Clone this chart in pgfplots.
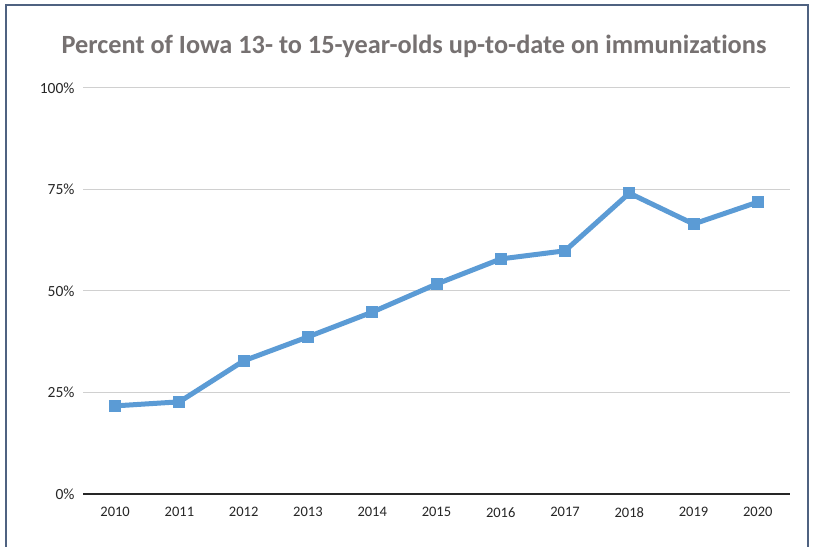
\documentclass[border=0pt]{standalone}
\usepackage{pgfplots}
\pgfplotsset{compat=1.18}
\usepackage{fontspec}
\setmainfont{Carlito}[Ligatures=NoCommon]
\definecolor{lineblue}{HTML}{5B9BD5}
\definecolor{framec}{HTML}{4F6281}
\definecolor{titlec}{HTML}{767171}
\definecolor{gridc}{HTML}{D0D0D0}
\definecolor{tickc}{HTML}{262626}
\begin{document}
\begin{tikzpicture}[x=1bp,y=1bp]
\useasboundingbox (0,0) rectangle (819,547);
\fill[white] (0,0) rectangle (819,547);
\draw[framec, line width=2bp] (6,0) -- (6,542) -- (808,542) -- (808,0);
\node[font=\fontsize{26.3bp}{30bp}\selectfont\bfseries, text=titlec] at (414,501) {Percent of Iowa 13- to 15-year-olds up-to-date on immunizations};
\begin{axis}[
  at={(83bp,53bp)}, anchor=south west,
  scale only axis, width=707bp, height=406bp,
  xmin=2009.5, xmax=2020.5, ymin=0, ymax=100,
  xtick={2010,...,2020},
  xticklabels={2010,2011,2012,2013,2014,2015,2016,2017,2018,2019,2020},
  ytick={0,25,50,75,100},
  yticklabels={0\%,25\%,50\%,75\%,100\%},
  ymajorgrids, grid style={gridc, line width=1bp},
  axis x line*=bottom, axis y line*=left,
  x axis line style={tickc, line width=1.3bp, -},
  y axis line style={draw=none},
  major tick length=0pt,
  tick label style={text=tickc},
  xticklabel style={font=\fontsize{14.5bp}{16bp}\selectfont, yshift=-10bp},
  yticklabel style={font=\fontsize{15.5bp}{17bp}\selectfont, xshift=-5bp},
  /pgf/number format/assume math mode=true,
  clip=false,
]
\addplot[lineblue, line width=5bp, mark=square*, mark size=5.5bp, mark options={solid, fill=lineblue, draw=lineblue, line width=0pt}]
coordinates {
(2010,21.7) (2011,22.7) (2012,32.8) (2013,38.7) (2014,44.8) (2015,51.7)
(2016,57.9) (2017,59.9) (2018,74.1) (2019,66.5) (2020,71.9)
};
\end{axis}
\end{tikzpicture}
\end{document}
